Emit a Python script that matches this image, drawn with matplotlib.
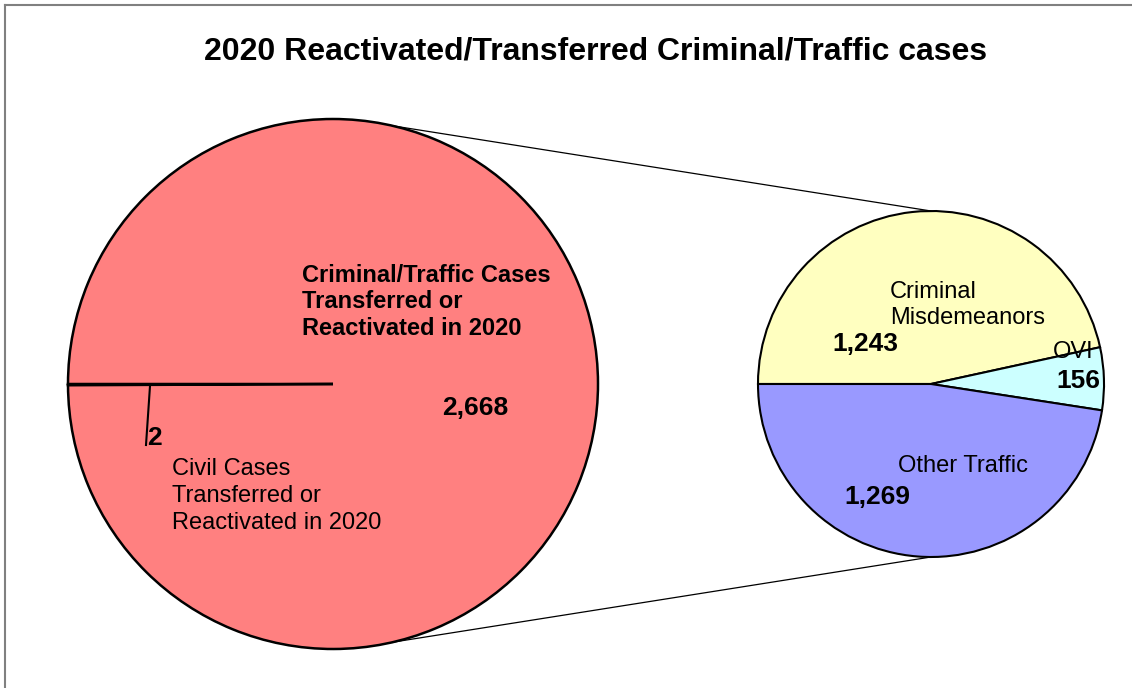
import numpy as np
import matplotlib.pyplot as plt
from matplotlib.lines import Line2D

plt.rcParams['font.family'] = ['Liberation Sans', 'DejaVu Sans']

# data
main_labels = ['Civil Cases\nTransferred or\nReactivated in 2020',
               'Criminal/Traffic Cases\nTransferred or\nReactivated in 2020']
main_values = [2, 2668]
sub_labels = ['Criminal\nMisdemeanors', 'OVI', 'Other Traffic']
sub_values = [1243, 156, 1269]
sub_colors = ['#FFFFC0', '#CCFFFF', '#9999FF']
main_color = '#FF8080'

W, H = 1132, 688
fig = plt.figure(figsize=(W / 100, H / 100), dpi=100)
ax = fig.add_axes([0, 0, 1, 1])

# pixel-like coordinates (y up)
big_c, big_r = (333, H - 384), 265
small_c, small_r = (931, H - 384), 173

ax.pie(main_values, center=big_c, radius=big_r, startangle=180,
       colors=[main_color, main_color], frame=True,
       wedgeprops=dict(edgecolor='black', linewidth=1.8))
ax.pie(sub_values, center=small_c, radius=small_r, startangle=180,
       counterclock=False, colors=sub_colors, frame=True,
       wedgeprops=dict(edgecolor='black', linewidth=1.5))

# connector lines between the pies
for a1, a2 in [(77, 90), (-77, -90)]:
    p1 = (big_c[0] + big_r * np.cos(np.radians(a1)), big_c[1] + big_r * np.sin(np.radians(a1)))
    p2 = (small_c[0] + small_r * np.cos(np.radians(a2)), small_c[1] + small_r * np.sin(np.radians(a2)))
    ax.plot([p1[0], p2[0]], [p1[1], p2[1]], color='black', lw=0.9)

# leader line for the tiny slice
ax.plot([150, 146], [H - 386, H - 445], color='black', lw=1.5)

ax.set_xlim(0, W)
ax.set_ylim(0, H)
ax.set_aspect('equal')
ax.axis('off')

fmt = lambda v: f'{v:,}'
num_fs = 19
ax.text(302, H - 302, main_labels[1], fontsize=17, fontweight='bold', va='center', ha='left', linespacing=1.22)
ax.text(442, H - 408, fmt(main_values[1]), fontsize=num_fs, fontweight='bold', va='center', ha='left')
ax.text(147, H - 438, fmt(main_values[0]), fontsize=num_fs, fontweight='bold', va='center', ha='left')
ax.text(172, H - 496, main_labels[0], fontsize=17, va='center', ha='left', linespacing=1.27)

ax.text(890, H - 305, sub_labels[0], fontsize=17, va='center', ha='left', linespacing=1.27)
ax.text(832, H - 344, fmt(sub_values[0]), fontsize=num_fs, fontweight='bold', va='center', ha='left')
ax.text(1053, H - 352, sub_labels[1], fontsize=17, va='center', ha='left')
ax.text(1056, H - 381, fmt(sub_values[1]), fontsize=num_fs, fontweight='bold', va='center', ha='left')
ax.text(898, H - 466, sub_labels[2], fontsize=17, va='center', ha='left')
ax.text(844, H - 497, fmt(sub_values[2]), fontsize=num_fs, fontweight='bold', va='center', ha='left')

ax.text(596, H - 52, '2020 Reactivated/Transferred Criminal/Traffic cases',
        fontsize=23, fontweight='bold', ha='center', va='center')

# outer frame (top and left edges visible)
fig.add_artist(Line2D([5 / W, 1], [1 - 4.5 / H, 1 - 4.5 / H], color='#808080', lw=1.5))
fig.add_artist(Line2D([5 / W, 5 / W], [0, 1 - 4.5 / H], color='#808080', lw=1.5))

fig.savefig('out.png', dpi=100)
